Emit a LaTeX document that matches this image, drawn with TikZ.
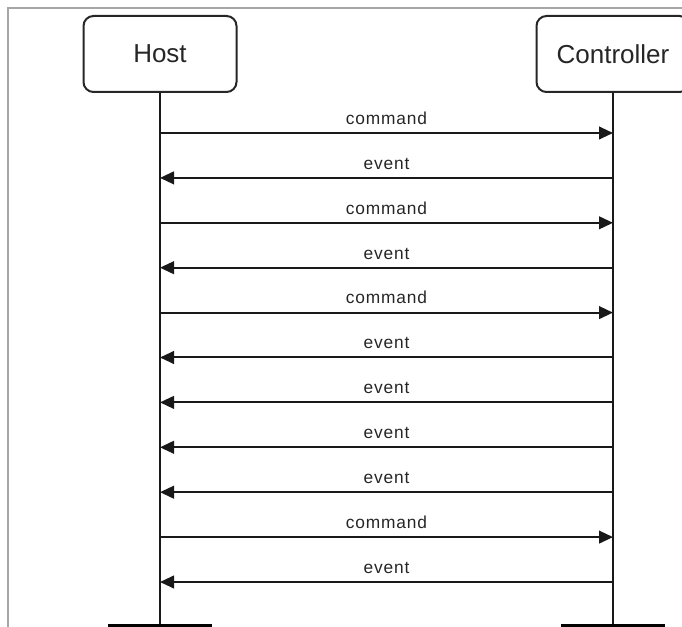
\documentclass[tikz,border=0pt]{standalone}
\usepackage{fontspec}
\setmainfont{Liberation Sans}
\usepackage{tikz}
\usetikzlibrary{arrows.meta,positioning}

\begin{document}
\begin{tikzpicture}[
    x=0.75pt,y=-0.75pt,
    actor/.style={draw=black!85,line width=1.5pt,rounded corners=7.5pt,
      minimum width=114.75pt,minimum height=57pt,font=\fontsize{19.5}{22}\selectfont,text=black!85},
    life/.style={draw=black!90,line width=1.5pt},
    msg/.style={draw=black!90,line width=1.5pt,-{Triangle[length=10.5pt,width=9.5pt]}},
    lbl/.style={anchor=base,yshift=6.5pt,inner sep=0pt,text=black!85,
      font=\fontsize{13}{15}\selectfont\addfontfeature{LetterSpace=5}},
    endbar/.style={draw=black,line width=2.5pt}
  ]
    \path[use as bounding box,clip] (0,0) rectangle (682,627);
    \draw[black!35,line width=0.8pt] (8,627) -- (8,8) -- (682,8);

    \node[actor] (host) at (160,54) {Host};
    \node[actor] (ctrl) at (613,54) {Controller};

    \coordinate (hostend) at (160,630);
    \coordinate (ctrlend) at (613,630);
    \draw[life] (host.south) -- (hostend);
    \draw[life] (ctrl.south) -- (ctrlend);

    % message points on both lifelines
    \foreach \i in {1,...,11} {
      \coordinate (h\i) at (160,{88.1+44.9*\i});
      \coordinate (c\i) at (613,{88.1+44.9*\i});
    }

    \draw[msg] (h1) -- node[lbl] {command} (c1);
    \draw[msg] (c2) -- node[lbl] {event} (h2);
    \draw[msg] (h3) -- node[lbl] {command} (c3);
    \draw[msg] (c4) -- node[lbl] {event} (h4);
    \draw[msg] (h5) -- node[lbl] {command} (c5);
    \draw[msg] (c6) -- node[lbl] {event} (h6);
    \draw[msg] (c7) -- node[lbl] {event} (h7);
    \draw[msg] (c8) -- node[lbl] {event} (h8);
    \draw[msg] (c9) -- node[lbl] {event} (h9);
    \draw[msg] (h10) -- node[lbl] {command} (c10);
    \draw[msg] (c11) -- node[lbl] {event} (h11);

    % end bars
    \coordinate (hb1) at (108,625.5);
    \coordinate (hb2) at (212,625.5);
    \coordinate (cb1) at (561,625.5);
    \coordinate (cb2) at (665,625.5);
    \draw[endbar] (hb1) -- (hb2);
    \draw[endbar] (cb1) -- (cb2);
  \end{tikzpicture}
\end{document}
